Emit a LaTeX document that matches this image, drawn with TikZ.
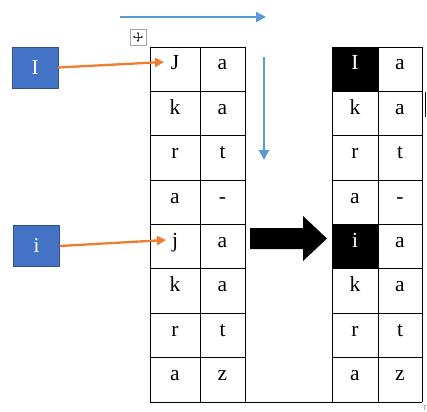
\documentclass[tikz,border=0pt]{standalone}
\usepackage{fontspec}
\setmainfont{Liberation Serif}
\usetikzlibrary{arrows.meta}
\definecolor{boxblue}{HTML}{4472C4}
\definecolor{boxedge}{HTML}{2F528F}
\definecolor{arrblue}{HTML}{5B9BD5}
\definecolor{arrorange}{HTML}{ED7D31}
\begin{document}
\begin{tikzpicture}[x=1pt,y=-1pt,
  cell/.style={font=\fontsize{21.5}{24}\selectfont, anchor=base, inner sep=0pt},
  cellw/.style={cell, text=white},
  lbl/.style={draw=boxedge, fill=boxblue, minimum width=46pt, minimum height=41pt, inner sep=0pt, text=white, font=\fontsize{21}{24}\selectfont},
  blue arrow/.style={draw=arrblue, line width=2.3pt, -{Triangle[length=10pt,width=10pt]}},
  orange arrow/.style={draw=arrorange, line width=2.3pt, -{Triangle[length=9pt,width=9pt]}},
  grid line/.style={line width=0.95pt}
]
\useasboundingbox (0,0) rectangle (427,411);
\fill[white] (0,0) rectangle (427,411);

% black filled cells
\fill[black] (332,47) rectangle (378,91.4);
\fill[black] (332,224.5) rectangle (378,268.9);

% left table grid
\foreach \y in {47,91.4,135.75,180.1,224.5,268.9,313.25,357.6}
  \draw[grid line] (150,\y) -- (245,\y);
\foreach \x in {150,200,245}
  \draw[grid line] (\x,47) -- (\x,402);
% right table grid
\foreach \y in {47,91.4,135.75,180.1,224.5,268.9,313.25,357.6}
  \draw[grid line] (332,\y) -- (422,\y);
\foreach \x in {332,378,422}
  \draw[grid line] (\x,47) -- (\x,402);
% bottom line
\draw[grid line] (150,402) -- (422,402);

% left table text
\node[cell] (l1a) at (175,70) {J};      \node[cell] (l1b) at (222.5,70) {a};
\node[cell] (l2a) at (175,114.4) {k};   \node[cell] (l2b) at (222.5,114.4) {a};
\node[cell] (l3a) at (175,158.75) {r};  \node[cell] (l3b) at (222.5,158.75) {t};
\node[cell] (l4a) at (175,203.1) {a};   \node[cell] (l4b) at (222.5,203.1) {-};
\node[cell] (l5a) at (175,247.5) {j};   \node[cell] (l5b) at (222.5,247.5) {a};
\node[cell] (l6a) at (175,291.9) {k};   \node[cell] (l6b) at (222.5,291.9) {a};
\node[cell] (l7a) at (175,336.25) {r};  \node[cell] (l7b) at (222.5,336.25) {t};
\node[cell] (l8a) at (175,380.6) {a};   \node[cell] (l8b) at (222.5,380.6) {z};

% right table text
\node[cellw] (r1a) at (355,70) {I};     \node[cell] (r1b) at (400,70) {a};
\node[cell] (r2a) at (355,114.4) {k};   \node[cell] (r2b) at (400,114.4) {a};
\node[cell] (r3a) at (355,158.75) {r};  \node[cell] (r3b) at (400,158.75) {t};
\node[cell] (r4a) at (355,203.1) {a};   \node[cell] (r4b) at (400,203.1) {-};
\node[cellw] (r5a) at (355,247.5) {i};  \node[cell] (r5b) at (400,247.5) {a};
\node[cell] (r6a) at (355,291.9) {k};   \node[cell] (r6b) at (400,291.9) {a};
\node[cell] (r7a) at (355,336.25) {r};  \node[cell] (r7b) at (400,336.25) {t};
\node[cell] (r8a) at (355,380.6) {a};   \node[cell] (r8b) at (400,380.6) {z};

% label boxes
\node[lbl] (bI) at (35,67.5) {I};
\node[lbl] (bi) at (36.5,246) {i};

% orange arrows
\coordinate (tJ) at (164,62);
\coordinate (tj) at (166,240);
\draw[orange arrow] (bI.east) -- (tJ);
\draw[orange arrow] (bi.east) -- (tj);

% blue arrows
\coordinate (h1) at (120,17);
\coordinate (h2) at (266,17);
\coordinate (v1) at (264,57);
\coordinate (v2) at (264,160);
\draw[blue arrow] (h1) -- (h2);
\draw[blue arrow] (v1) -- (v2);

% big black arrow
\fill[black] (250,228) -- (303,228) -- (303,216) -- (327,238.5) -- (303,261) -- (303,249) -- (250,249) -- cycle;

% table move handle
\draw[gray!70, line width=0.6pt, fill=white] (130,29) rectangle (146,45);
\draw[gray!40!black, line width=0.6pt, {Triangle[length=2pt,width=2.5pt]}-{Triangle[length=2pt,width=2.5pt]}] (133,37) -- (143,37);
\draw[gray!40!black, line width=0.6pt, {Triangle[length=2pt,width=2.5pt]}-{Triangle[length=2pt,width=2.5pt]}] (138,32) -- (138,42);

% small marks
\draw[black, line width=0.8pt] (425,92) -- (425,117);
\draw[gray!60, line width=0.5pt] (424,410) -- (424,405) -- (427,405);
\end{tikzpicture}
\end{document}
